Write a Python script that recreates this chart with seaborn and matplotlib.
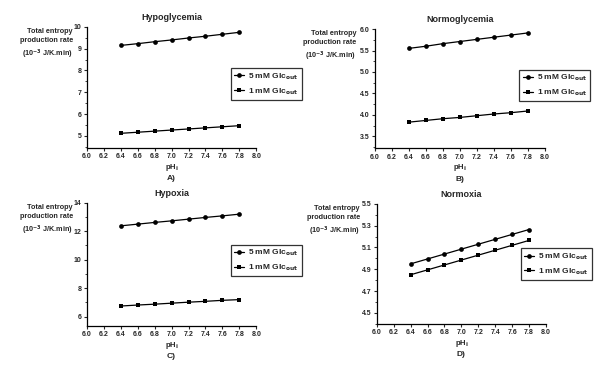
import matplotlib
matplotlib.use('Agg')
import matplotlib.pyplot as plt
from matplotlib.ticker import MultipleLocator
import pandas as pd
import seaborn as sns

sns.set_style('ticks')
plt.rcParams['font.family'] = ['Liberation Sans', 'DejaVu Sans']
plt.rcParams['font.weight'] = 'bold'

ph = [6.4, 6.6, 6.8, 7.0, 7.2, 7.4, 7.6, 7.8]

# values
hypogly_5 = [9.15, 9.23, 9.32, 9.40, 9.49, 9.57, 9.66, 9.75]
hypogly_1 = [5.12, 5.17, 5.22, 5.27, 5.32, 5.37, 5.42, 5.47]
normogly_5 = [5.55, 5.60, 5.66, 5.71, 5.76, 5.81, 5.86, 5.91]
normogly_1 = [3.83, 3.87, 3.91, 3.94, 3.98, 4.02, 4.05, 4.09]
hypoxia_5 = [12.38, 12.50, 12.62, 12.73, 12.85, 12.97, 13.08, 13.20]
hypoxia_1 = [6.75, 6.82, 6.88, 6.95, 7.02, 7.08, 7.15, 7.20]
normoxia_5 = [4.950, 4.995, 5.040, 5.085, 5.130, 5.175, 5.220, 5.265]
normoxia_1 = [4.850, 4.895, 4.940, 4.985, 5.030, 5.075, 5.120, 5.165]

titles = ['Hypoglycemia', 'Normoglycemia', 'Hypoxia', 'Normoxia']
letters = ['A)', 'B)', 'C)', 'D)']
series = [(hypogly_5, hypogly_1), (normogly_5, normogly_1),
          (hypoxia_5, hypoxia_1), (normoxia_5, normoxia_1)]
ylims = [(4.45, 10), (3.22, 6.0), (5.37, 14), (4.4, 5.5)]
yticks = [[5, 6, 7, 8, 9, 10], [3.5, 4.0, 4.5, 5.0, 5.5, 6.0],
          [6, 8, 10, 12, 14], [4.5, 4.7, 4.9, 5.1, 5.3, 5.5]]
yfmt = ['{:.0f}', '{:.1f}', '{:.0f}', '{:.1f}']
yminor = [0.5, 0.25, 1, 0.1]
xticks = [6.0, 6.2, 6.4, 6.6, 6.8, 7.0, 7.2, 7.4, 7.6, 7.8, 8.0]
lab5 = '5 mM Glc$_{\\mathbf{out}}$'
lab1 = '1 mM Glc$_{\\mathbf{out}}$'

rects = [[0.145, 0.598, 0.282, 0.329], [0.625, 0.597, 0.283, 0.324],
         [0.145, 0.115, 0.282, 0.334], [0.628, 0.120, 0.282, 0.326]]
legtop = [0.66, 0.66, 0.66, 0.63]
ylab_x = [-0.083, -0.11, -0.083, -0.1]

fig = plt.figure(figsize=(6, 3.68), dpi=100)

for i in range(4):
    ax = fig.add_axes(rects[i])
    s5, s1 = series[i]
    df = pd.DataFrame({'ph': ph * 2, 'val': s5 + s1,
                       'grp': [lab5] * len(ph) + [lab1] * len(ph)})
    sns.lineplot(data=df, x='ph', y='val', hue='grp', style='grp',
                 markers={lab5: 'o', lab1: 's'}, dashes=False,
                 palette={lab5: 'black', lab1: 'black'},
                 linewidth=0.9, markersize=3.4, markeredgewidth=0, ax=ax)
    ax.set_xlim(6.0, 8.0)
    ax.set_ylim(*ylims[i])
    ax.set_xticks(xticks)
    ax.set_xticklabels(['{:.1f}'.format(t) for t in xticks])
    ax.set_yticks(yticks[i])
    ax.set_yticklabels([yfmt[i].format(t) for t in yticks[i]])
    ax.yaxis.set_minor_locator(MultipleLocator(yminor[i]))
    ax.tick_params(axis='both', labelsize=5, width=0.8, length=2.5, pad=1.5)
    ax.tick_params(axis='y', which='minor', width=0.6, length=1.5)
    for lbl in ax.get_xticklabels() + ax.get_yticklabels():
        lbl.set_fontweight('bold')
    sns.despine(ax=ax)
    for sp in ['left', 'bottom']:
        ax.spines[sp].set_linewidth(0.9)
        ax.spines[sp].set_color('black')
    ax.set_title(titles[i], fontsize=6.5, fontweight='bold', pad=5)
    ax.set_ylabel('')
    ax.set_xlabel('pH$_{\\mathbf{i}}$', fontsize=5.5, fontweight='bold', labelpad=1)
    ax.text(ylab_x[i], 0.99, 'Total entropy\nproduction rate\n(10$^{\\mathbf{-3}}$ J/K.min)',
            transform=ax.transAxes, ha='right', va='top', fontsize=5.2,
            fontweight='bold', linespacing=1.4)
    ax.annotate(letters[i], xy=(0.5, 0), xycoords='axes fraction',
                xytext=(0, -31), textcoords='offset pixels',
                ha='center', va='center', fontsize=6, fontweight='bold')
    leg = ax.legend(loc='upper left', bbox_to_anchor=(0.85, legtop[i]),
                    fontsize=6, frameon=True, fancybox=False,
                    handlelength=1.2, borderpad=0.4, labelspacing=0.5,
                    handletextpad=0.5, borderaxespad=0)
    leg.get_frame().set_edgecolor('black')
    leg.get_frame().set_linewidth(0.9)
    for t in leg.get_texts():
        t.set_fontweight('bold')

fig.savefig('out.png', dpi=100)
